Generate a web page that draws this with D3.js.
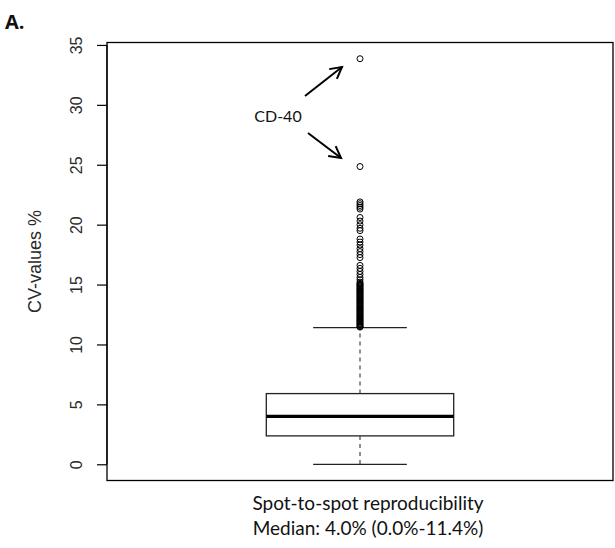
<!DOCTYPE html>
<html>
<head>
<meta charset="utf-8">
<script src="https://cdn.jsdelivr.net/npm/d3@7"></script>
<style>
  body { margin: 0; background: #fff; }
  svg { display: block; }
</style>
</head>
<body>
<svg id="chart" width="615" height="548"></svg>
<script>
// ---- data ----
const categories = ["Spot-to-spot reproducibility"];
const boxStats = { min: 0.0, q1: 2.37, median: 4.0, q3: 5.9, max: 11.4 };
const outliers = [
  33.85, 24.85,
  21.9, 21.75, 21.6, 21.45, 21.3,
  20.6, 20.3, 20.0, 19.7, 19.5,
  18.8, 18.55, 18.3, 18.0, 17.75, 17.5, 17.25,
  16.6, 16.35, 16.1, 15.85, 15.6, 15.4, 15.2,
  15.1, 15.02, 14.95, 14.88, 14.8, 14.72, 14.65, 14.58, 14.5, 14.42,
  14.35, 14.28, 14.2, 14.12, 14.05, 13.98, 13.9, 13.82, 13.75, 13.68,
  13.6, 13.52, 13.45, 13.38, 13.3, 13.22, 13.15, 13.08, 13.0, 12.92,
  12.85, 12.78, 12.7, 12.62, 12.55, 12.48, 12.4, 12.32, 12.25, 12.18,
  12.1, 12.02, 11.95, 11.88, 11.8, 11.72, 11.65, 11.58, 11.5, 11.45
];
const yTicks = [0, 5, 10, 15, 20, 25, 30, 35];
const yTitle = "CV-values %";
const panelLabel = "A.";
const caption = ["Spot-to-spot reproducibility", "Median: 4.0% (0.0%-11.4%)"];
const annotation = "CD-40";
const annotatedPoints = [33.85, 24.85];

// ---- layout ----
const svg = d3.select("#chart");
const plot = { left: 107, right: 613, top: 42.5, bottom: 480.5 };

const yMin = 0, yMax = 33.85, pad = (yMax - yMin) * 0.04;
const y = d3.scaleLinear().domain([yMin - pad, yMax + pad]).range([plot.bottom, plot.top]);
const x = d3.scaleLinear().domain([0.46, 1.54]).range([plot.left, plot.right]);
const cx = x(1);
const boxHalf = 0.2, capHalf = 0.1;

// plot frame
svg.append("rect")
  .attr("x", plot.left).attr("y", plot.top)
  .attr("width", plot.right - plot.left).attr("height", plot.bottom - plot.top)
  .attr("fill", "none").attr("stroke", "#000").attr("stroke-width", 1.3);

// y axis
const axis = d3.axisLeft(y).tickValues(yTicks).tickSize(10).tickFormat(d3.format("d"));
const gAxis = svg.append("g").attr("transform", `translate(${plot.left},0)`).call(axis);
gAxis.select(".domain").attr("d", `M-0,${y(0)}V${y(35)}`).attr("stroke", "#000").attr("stroke-width", 1.2);
gAxis.selectAll(".tick line").attr("stroke", "#000").attr("stroke-width", 1.2);
gAxis.selectAll(".tick text")
  .attr("x", null).attr("dy", null)
  .attr("transform", "translate(-25,0) rotate(-90)")
  .attr("text-anchor", "middle")
  .attr("fill", "#2a2a2a")
  .style("font-family", "'Liberation Sans', Arial, sans-serif")
  .style("font-size", "16px");

// y title
svg.append("text")
  .attr("transform", `translate(41,${(plot.top + plot.bottom) / 2}) rotate(-90)`)
  .attr("text-anchor", "middle")
  .attr("fill", "#2a2a2a")
  .style("font-family", "'Liberation Sans', Arial, sans-serif")
  .style("font-size", "18px")
  .text(yTitle);

// whiskers
const g = svg.append("g");
g.append("line").attr("x1", cx).attr("x2", cx)
  .attr("y1", y(boxStats.q3)).attr("y2", y(boxStats.max))
  .attr("stroke", "#444").attr("stroke-width", 1.2).attr("stroke-dasharray", "4,4");
g.append("line").attr("x1", cx).attr("x2", cx)
  .attr("y1", y(boxStats.q1)).attr("y2", y(boxStats.min))
  .attr("stroke", "#444").attr("stroke-width", 1.2).attr("stroke-dasharray", "4,4");
[boxStats.max, boxStats.min].forEach(v => {
  g.append("line").attr("x1", x(1 - capHalf)).attr("x2", x(1 + capHalf))
    .attr("y1", y(v)).attr("y2", y(v))
    .attr("stroke", "#222").attr("stroke-width", 1.3);
});
// box
g.append("rect")
  .attr("x", x(1 - boxHalf)).attr("y", y(boxStats.q3))
  .attr("width", x(1 + boxHalf) - x(1 - boxHalf))
  .attr("height", y(boxStats.q1) - y(boxStats.q3))
  .attr("fill", "#fff").attr("stroke", "#222").attr("stroke-width", 1.3);
g.append("line")
  .attr("x1", x(1 - boxHalf)).attr("x2", x(1 + boxHalf))
  .attr("y1", y(boxStats.median)).attr("y2", y(boxStats.median))
  .attr("stroke", "#000").attr("stroke-width", 3.2);

// outliers
g.selectAll("circle.out").data(outliers).join("circle")
  .attr("class", "out")
  .attr("cx", cx).attr("cy", d => y(d)).attr("r", 3)
  .attr("fill", "none").attr("stroke", "#000").attr("stroke-width", 1);

// annotation
svg.append("text")
  .attr("x", 278).attr("y", 122)
  .attr("text-anchor", "middle")
  .style("font-family", "Lato, 'Open Sans', sans-serif")
  .style("font-size", "16px")
  .attr("fill", "#111")
  .text(annotation);

function arrow(x1, y1, x2, y2) {
  const ang = Math.atan2(y2 - y1, x2 - x1);
  const len = 13, spread = 0.5;
  const p1 = [x2 - len * Math.cos(ang - spread), y2 - len * Math.sin(ang - spread)];
  const p2 = [x2 - len * Math.cos(ang + spread), y2 - len * Math.sin(ang + spread)];
  svg.append("line").attr("x1", x1).attr("y1", y1).attr("x2", x2).attr("y2", y2)
    .attr("stroke", "#000").attr("stroke-width", 2);
  svg.append("path")
    .attr("d", `M${p1[0]},${p1[1]}L${x2},${y2}L${p2[0]},${p2[1]}`)
    .attr("fill", "none").attr("stroke", "#000").attr("stroke-width", 2)
    .attr("stroke-linejoin", "miter");
}
arrow(305, 96, 342, 67);
arrow(308, 133, 341, 158);

// panel label
svg.append("text")
  .attr("x", 5).attr("y", 29)
  .style("font-family", "'Open Sans', 'Liberation Sans', sans-serif")
  .style("font-weight", "bold")
  .style("font-size", "20px")
  .attr("fill", "#111")
  .text(panelLabel);

// caption
caption.forEach((t, i) => {
  svg.append("text")
    .attr("x", cx + 8).attr("y", 510 + i * 25)
    .attr("text-anchor", "middle")
    .style("font-family", "Lato, 'Open Sans', sans-serif")
    .style("font-size", "19px")
    .attr("fill", "#111")
    .text(t);
});
</script>
</body>
</html>
